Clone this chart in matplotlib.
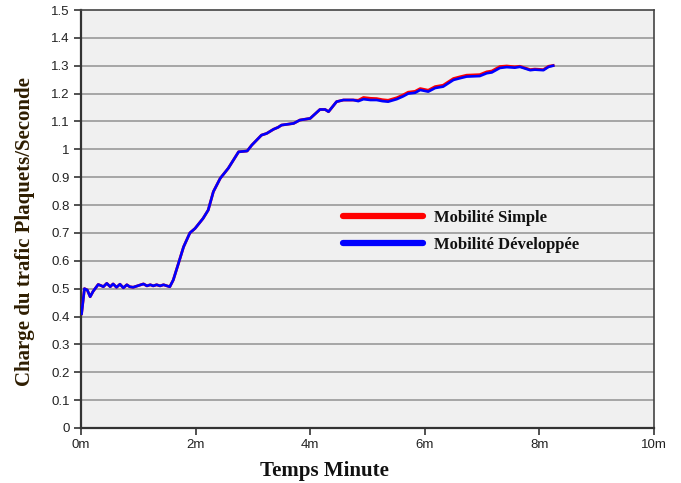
import matplotlib
matplotlib.use("Agg")
import matplotlib.pyplot as plt
from matplotlib.ticker import FixedLocator

# ---- data ----
temps = [0.01, 0.06, 0.11, 0.16, 0.21, 0.30, 0.36, 0.39, 0.45, 0.51, 0.56, 0.62, 0.68,
         0.74, 0.80, 0.85, 0.91, 1.00, 1.09, 1.15, 1.21, 1.26, 1.32, 1.38, 1.44, 1.50,
         1.55, 1.61, 1.70, 1.79, 1.90, 1.99, 2.13, 2.22, 2.31, 2.43, 2.57, 2.75, 2.90,
         2.98, 3.15, 3.24, 3.36, 3.44, 3.50, 3.71, 3.82, 4.00, 4.17, 4.26, 4.32, 4.46,
         4.58, 4.75, 4.84, 4.93, 5.05, 5.16, 5.26, 5.36, 5.51, 5.62, 5.71, 5.83, 5.92,
         6.06, 6.18, 6.32, 6.50, 6.61, 6.73, 6.96, 7.08, 7.17, 7.31, 7.43, 7.57, 7.66,
         7.84, 7.92, 8.07, 8.16, 8.24]

mobilite_developpee = [0.41, 0.50, 0.495, 0.471, 0.49, 0.515, 0.51, 0.507, 0.519, 0.507,
                       0.517, 0.505, 0.516, 0.503, 0.514, 0.507, 0.505, 0.511, 0.517,
                       0.510, 0.514, 0.510, 0.514, 0.510, 0.514, 0.510, 0.507, 0.531,
                       0.59, 0.65, 0.70, 0.716, 0.752, 0.782, 0.848, 0.896, 0.932, 0.991,
                       0.994, 1.015, 1.051, 1.057, 1.072, 1.079, 1.087, 1.093, 1.105,
                       1.111, 1.143, 1.143, 1.135, 1.171, 1.177, 1.177, 1.173, 1.180,
                       1.177, 1.177, 1.173, 1.171, 1.180, 1.190, 1.200, 1.203, 1.213,
                       1.207, 1.220, 1.225, 1.249, 1.255, 1.261, 1.263, 1.273, 1.276,
                       1.292, 1.295, 1.293, 1.296, 1.284, 1.286, 1.284, 1.296, 1.300]

mobilite_simple = [0.41, 0.50, 0.495, 0.471, 0.49, 0.515, 0.51, 0.507, 0.519, 0.507,
                   0.517, 0.505, 0.516, 0.503, 0.514, 0.507, 0.505, 0.511, 0.517,
                   0.510, 0.514, 0.510, 0.514, 0.510, 0.514, 0.510, 0.507, 0.531,
                   0.59, 0.65, 0.70, 0.716, 0.752, 0.782, 0.848, 0.896, 0.932, 0.991,
                   0.994, 1.015, 1.051, 1.057, 1.072, 1.079, 1.087, 1.093, 1.105,
                   1.111, 1.143, 1.143, 1.135, 1.171, 1.177, 1.177, 1.176, 1.186,
                   1.183, 1.182, 1.178, 1.176, 1.185, 1.195, 1.205, 1.208, 1.218,
                   1.212, 1.225, 1.230, 1.254, 1.260, 1.266, 1.268, 1.278, 1.281,
                   1.297, 1.299, 1.296, 1.298, 1.286, 1.288, 1.286, 1.298, 1.301]

x_ticks = [0, 2, 4, 6, 8, 10]
x_labels = ["0m", "2m", "4m", "6m", "8m", "10m"]
y_ticks = [0, 0.1, 0.2, 0.3, 0.4, 0.5, 0.6, 0.7, 0.8, 0.9, 1.0, 1.1, 1.2, 1.3, 1.4, 1.5]
y_labels = ["0", "0.1", "0.2", "0.3", "0.4", "0.5", "0.6", "0.7", "0.8", "0.9",
            "1", "1.1", "1.2", "1.3", "1.4", "1.5"]

# ---- figure ----
fig = plt.figure(figsize=(6.81, 4.83), dpi=100)
fig.patch.set_facecolor("white")
ax = fig.add_axes([81 / 681, 55 / 483, 573 / 681, 418 / 483])
ax.set_facecolor("#f0f0f0")

ax.set_xlim(0, 10)
ax.set_ylim(0, 1.5)

for yv in y_ticks[1:-1]:
    ax.axhline(yv, color="#a0a0a0", linewidth=1.3, zorder=1)

ax.plot(temps, mobilite_simple, color="#ff0000", linewidth=2.0, zorder=3,
        solid_joinstyle="round", label="Mobilité Simple")
ax.plot(temps, mobilite_developpee, color="#0000ff", linewidth=1.9, zorder=4,
        solid_joinstyle="round", label="Mobilité Développée")

ax.xaxis.set_major_locator(FixedLocator(x_ticks))
ax.set_xticklabels(x_labels)
ax.yaxis.set_major_locator(FixedLocator(y_ticks))
ax.set_yticklabels(y_labels)

for lab in ax.get_xticklabels() + ax.get_yticklabels():
    lab.set_fontfamily("Liberation Sans")
    lab.set_fontsize(9.5)
    lab.set_color("#222222")

ax.tick_params(axis="both", direction="out", length=5, width=1.2, color="#333333", pad=3)

for side in ["left", "bottom"]:
    ax.spines[side].set_color("#333333")
    ax.spines[side].set_linewidth(1.6)
for side in ["top", "right"]:
    ax.spines[side].set_color("#444444")
    ax.spines[side].set_linewidth(1.2)

ax.set_xlabel("Temps Minute", fontfamily="Liberation Serif", fontweight="bold",
              fontsize=15, color="#111111", labelpad=7, x=0.424)
ax.set_ylabel("Charge du trafic Plaquets/Seconde", fontfamily="Liberation Serif",
              fontweight="bold", fontsize=15, color="#2e1d00", labelpad=12, y=0.471)

leg = ax.legend(loc="upper left", bbox_to_anchor=(0.431, 0.557), frameon=False,
                prop=dict(family="Liberation Serif", weight="bold", size=12),
                handlelength=4.78, handletextpad=0.7, labelspacing=0.62)
for line in leg.get_lines():
    line.set_linewidth(4.5)
    line.set_solid_capstyle("round")
for txt in leg.get_texts():
    txt.set_color("#111111")

fig.savefig("out.png", dpi=100, facecolor="white")
